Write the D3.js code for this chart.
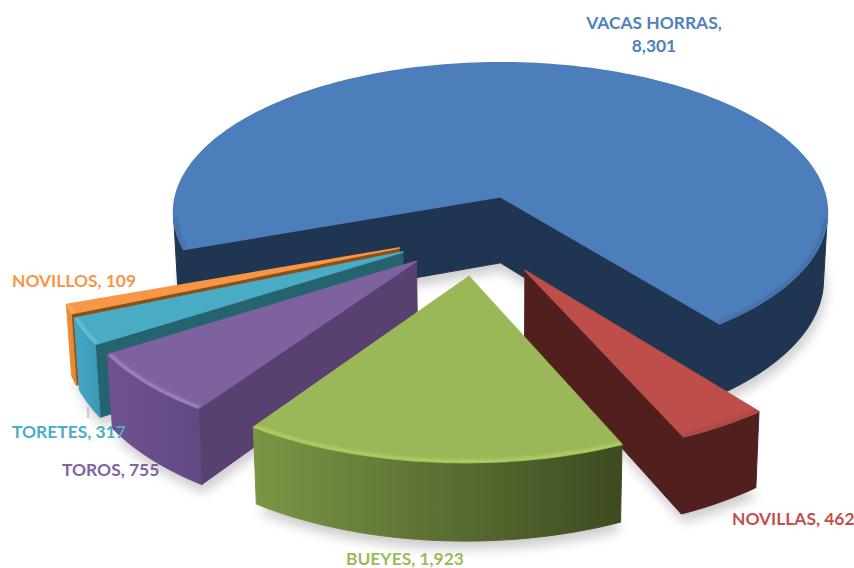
<!DOCTYPE html>
<html>
<head>
<meta charset="utf-8">
<script src="https://cdn.jsdelivr.net/npm/d3@7"></script>
<style>
  html, body { margin: 0; background: #fff; }
  text { font-family: Lato, "Open Sans", sans-serif; font-weight: 700; font-size: 17.4px; }
</style>
</head>
<body>
<div id="chart"></div>
<script>
// Data
const categories = ['VACAS HORRAS', 'NOVILLAS', 'BUEYES', 'TOROS', 'TORETES', 'NOVILLOS']
const values = [8301, 462, 1923, 755, 317, 109]

// Styles
const topColors = ['#4c7ebb', '#bd4e4a', '#9bb858', '#7e62a0', '#4aabc5', '#f79646']
const labelColors = ['#4f81bd', '#c0504d', '#9bbb59', '#8064a2', '#4bacc6', '#f79646']
const sideColors = ['#1f3551', '#511f1d', '#4a5a28', '#584070', '#25636f', '#8a5018']
const wallColors = [['#1f3551', '#1f3551'], ['#511f1d', '#511f1d'], ['#7b9545', '#3d4b20'],
  ['#6f5192', '#604882'], ['#44a4c2', '#3c98b4'], ['#e98c36', '#e08430']]
const glowColors = ['#3f6ca5', '#ab4542', '#b4d466', '#a88ecb', '#6ec6dd', '#ffb066']
const explode = [0.25, 0.27, 0.27, 0.25, 0.25, 0.25]
const labelLines = [
  { x: 654, y: 29, anchor: 'middle' },
  { x: 732, y: 525, anchor: 'start' },
  { x: 346, y: 565, anchor: 'start' },
  { x: 62, y: 476, anchor: 'start' },
  { x: 12, y: 438, anchor: 'start' },
  { x: 12, y: 287, anchor: 'start' }
]

// Dimensions
const dimensions = {
  width: 854,
  height: 568,
  cx: 499,
  cy: 196,
  rx: 325,
  ry: 148,
  depth: 66,
  perspective: 0.105,
  centerX: -0.064,
  centerY: 0.246
}

const degToRad = Math.PI / 180

// Disc coordinates -> screen. z is 0 on the top face and 1 on the bottom one
function project(wx, wy, z) {
  const s = 1 / (1 - dimensions.perspective * wy)
  return [
    dimensions.cx + dimensions.rx * wx * s * (1 - 0.012 * z),
    dimensions.cy + dimensions.ry * wy * s + dimensions.depth * s * z
  ]
}

const pie = d3.pie()
  .sort(null)
  .startAngle(250 * degToRad)
  .endAngle(610 * degToRad)

const arcs = pie(values).map((d, i) => {
  const mid = (d.startAngle + d.endAngle) / 2
  const ox = dimensions.centerX + explode[i] * Math.sin(mid)
  const oy = dimensions.centerY - explode[i] * Math.cos(mid)
  const n = Math.ceil((d.endAngle - d.startAngle) / (1.5 * degToRad))
  const angles = d3.range(n + 1).map(k => d.startAngle + (d.endAngle - d.startAngle) * k / n)
  return { i, mid, ox, oy, angles, front: -Math.cos(mid) }
})

const onRim = (a, angle, z, r = 1) => project(a.ox + r * Math.sin(angle), a.oy - r * Math.cos(angle), z)
const lineGen = d3.line()
const closed = pts => lineGen(pts) + 'Z'

// Draw Image
const svg = d3.select('#chart')
  .append('svg')
  .attr('width', dimensions.width)
  .attr('height', dimensions.height)
  .style('display', 'block')

const defs = svg.append('defs')
defs.append('filter').attr('id', 'shadow')
  .attr('x', '-20%').attr('y', '-20%').attr('width', '140%').attr('height', '140%')
  .append('feGaussianBlur').attr('stdDeviation', 6)
defs.append('filter').attr('id', 'glow')
  .attr('filterUnits', 'userSpaceOnUse')
  .attr('x', 0).attr('y', 0).attr('width', dimensions.width).attr('height', dimensions.height)
  .append('feGaussianBlur').attr('stdDeviation', 1.6)

arcs.forEach(a => {
  const first = onRim(a, a.angles[0], 1)
  const last = onRim(a, a.angles[a.angles.length - 1], 1)
  const grad = defs.append('linearGradient')
    .attr('id', `wall-${a.i}`)
    .attr('gradientUnits', 'userSpaceOnUse')
    .attr('x1', Math.min(first[0], last[0])).attr('x2', Math.max(first[0], last[0]))
    .attr('y1', 0).attr('y2', 0)
  grad.append('stop').attr('offset', 0).attr('stop-color', wallColors[a.i][0])
  grad.append('stop').attr('offset', 1).attr('stop-color', wallColors[a.i][1])
})

// Soft shadows go under everything
svg.append('g')
  .selectAll('path')
  .data(arcs)
  .join('path')
  .attr('d', a => closed([project(a.ox, a.oy, 1), ...a.angles.map(t => onRim(a, t, 1))]))
  .attr('transform', 'translate(2, 8)')
  .attr('fill', '#000')
  .attr('opacity', 0.2)
  .attr('filter', 'url(#shadow)')

// d3.polygonArea is positive for the faces turned to the viewer in this winding
const facesViewer = pts => d3.polygonArea(pts) > 0

// Consecutive visible rim steps, as lists of angles
function visibleRuns(a) {
  const runs = []
  let run = null
  d3.pairs(a.angles).forEach(([p, q]) => {
    const quad = [onRim(a, p, 0), onRim(a, q, 0), onRim(a, q, 1), onRim(a, p, 1)]
    if (!facesViewer(quad)) {
      run = null
      return
    }
    if (!run) {
      run = [p]
      runs.push(run)
    }
    run.push(q)
  })
  return runs
}

const sorted = arcs.slice().sort((a, b) => a.front - b.front)

sorted.forEach(a => {
  const g = svg.append('g').attr('class', 'slice')
  const apexTop = project(a.ox, a.oy, 0)
  const apexBottom = project(a.ox, a.oy, 1)
  const t0 = a.angles[0]
  const t1 = a.angles[a.angles.length - 1]
  const runs = visibleRuns(a)

  // Cut faces
  const cuts = [
    [apexTop, onRim(a, t0, 0), onRim(a, t0, 1), apexBottom],
    [onRim(a, t1, 0), apexTop, apexBottom, onRim(a, t1, 1)]
  ]
  g.selectAll('path.cut')
    .data(cuts.filter(facesViewer))
    .join('path')
    .classed('cut', true)
    .attr('d', closed)
    .attr('fill', sideColors[a.i])
    .attr('stroke', sideColors[a.i])
    .attr('stroke-width', 1)

  // Outer wall, one polygon per run so no seams show
  g.selectAll('path.wall')
    .data(runs)
    .join('path')
    .classed('wall', true)
    .attr('d', r => closed([
      ...r.map(t => onRim(a, t, 0)),
      ...r.slice().reverse().map(t => onRim(a, t, 1))
    ]))
    .attr('fill', `url(#wall-${a.i})`)
    .attr('stroke', `url(#wall-${a.i})`)
    .attr('stroke-width', 1)

  // Top face
  const rim = a.angles.map(t => onRim(a, t, 0))
  g.append('path')
    .attr('d', closed([apexTop, ...rim]))
    .attr('fill', topColors[a.i])
    .attr('stroke', topColors[a.i])
    .attr('stroke-width', 1.5)
    .attr('stroke-linejoin', 'round')

  // Bevel along the front part of the rim only
  const clipId = `top-${a.i}`
  defs.append('clipPath').attr('id', clipId)
    .append('path').attr('d', closed([apexTop, ...rim]))
  g.append('g').attr('clip-path', `url(#${clipId})`)
    .selectAll('path')
    .data(runs)
    .join('path')
    .attr('d', r => lineGen(r.map(t => onRim(a, t, 0, 0.995))))
    .attr('fill', 'none')
    .attr('stroke', glowColors[a.i])
    .attr('stroke-width', 3)
    .attr('filter', 'url(#glow)')
})

// Leader line of TORETES
svg.append('line')
  .attr('x1', 88).attr('y1', 407)
  .attr('x2', 88).attr('y2', 418)
  .attr('stroke', '#a6a6a6')
  .attr('stroke-width', 1)

// Labels
const fmt = d3.format(',')
const labels = svg.append('g')
categories.forEach((name, i) => {
  const pos = labelLines[i]
  const lines = i === 0 ? [`${name},`, fmt(values[i])] : [`${name}, ${fmt(values[i])}`]
  lines.forEach((line, k) => {
    labels.append('text')
      .attr('x', pos.x)
      .attr('y', pos.y + k * 23)
      .attr('text-anchor', pos.anchor)
      .attr('fill', labelColors[i])
      .text(line)
  })
})
</script>
</body>
</html>
